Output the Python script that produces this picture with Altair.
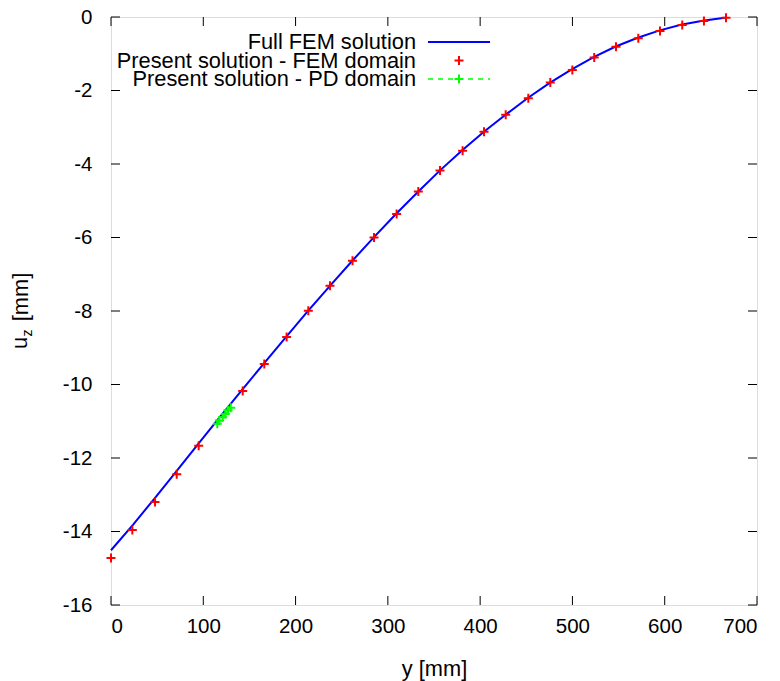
import altair as alt
import pandas as pd

# ---- data ----
fem_y = [0, 23.1, 47.7, 71.2, 95, 142.7, 166.1, 190.3, 213.8, 237.3, 261.7, 285, 309.5,
         333, 356.5, 381, 404.2, 427.7, 452.2, 476, 499.9, 523.6, 547.2, 571.4, 594.9,
         619, 642.5, 666.4]
fem_u = [-14.72, -13.96, -13.20, -12.44, -11.67, -10.18, -9.44, -8.71, -7.99, -7.31, -6.63,
         -6.00, -5.36, -4.75, -4.18, -3.64, -3.12, -2.66, -2.21, -1.78, -1.44, -1.10, -0.81,
         -0.58, -0.38, -0.22, -0.11, -0.02]

full_y = [0, 23.75, 47.5, 71.25, 95, 118.75, 142.5, 166.25, 190, 213.75, 237.5, 261.25, 285,
          308.75, 332.5, 356.25, 380, 403.75, 427.5, 451.25, 475, 498.75, 522.5, 546.25, 570,
          593.75, 617.5, 641.25, 665]
full_u = [-14.51, -13.82, -13.09, -12.35, -11.60, -10.86, -10.13, -9.41, -8.70, -7.99, -7.31,
          -6.64, -5.99, -5.36, -4.76, -4.18, -3.64, -3.13, -2.66, -2.21, -1.80, -1.43, -1.10,
          -0.81, -0.57, -0.37, -0.21, -0.10, -0.02]

pd_y = [115.2, 117.4, 121.0, 123.9, 126.8, 129.7]
pd_u = [-11.07, -10.98, -10.89, -10.80, -10.70, -10.63]

x_ticks = [0, 100, 200, 300, 400, 500, 600, 700]
y_ticks = [0, -2, -4, -6, -8, -10, -12, -14, -16]

legend_labels = ["Full FEM solution", "Present solution - FEM domain", "Present solution - PD domain"]

W, H = 646, 588
FONT = "Liberation Sans"
FS = 21.8
TFS = 20.5
CROSS = "M-1,0L1,0M0,-1L0,1"

xscale = alt.Scale(domain=[0, 700], nice=False, zero=False)
yscale = alt.Scale(domain=[-16, 0], nice=False, zero=False)
xaxis = alt.Axis(values=x_ticks, title="y [mm]", grid=False, domain=False, ticks=False,
                 labelFontSize=TFS, labelPadding=11, titleFontSize=FS, titlePadding=22,
                 labelFont=FONT, titleFont=FONT, labelColor="black", titleColor="black",
                 titleFontWeight="normal")
yaxis = alt.Axis(values=y_ticks, title=None, grid=False, domain=False, ticks=False,
                 labelFontSize=TFS, labelPadding=19, labelFont=FONT, labelColor="black",
                 labelExpr="replace(datum.label, '\u2212', '-')")


def X(field="x"):
    return alt.X(f"{field}:Q", scale=xscale, axis=xaxis)


def Y(field="y"):
    return alt.Y(f"{field}:Q", scale=yscale, axis=yaxis)


full_df = pd.DataFrame({"x": full_y, "y": full_u})
fem_df = pd.DataFrame({"x": fem_y, "y": fem_u})
pd_df = pd.DataFrame({"x": pd_y, "y": pd_u})
xt_df = pd.DataFrame({"x": x_ticks})
yt_df = pd.DataFrame({"y": y_ticks})
one = pd.DataFrame({"a": [0]})

full_line = alt.Chart(full_df).mark_line(color="#0000ff", strokeWidth=2).encode(x=X(), y=Y())
pd_line = alt.Chart(pd_df).mark_line(color="#00ff00", strokeWidth=1.5, strokeDash=[5, 5]).encode(x=X(), y=Y())
pd_pts = alt.Chart(pd_df).mark_point(shape=CROSS, size=81, filled=False, color="#00ff00",
                                      strokeWidth=2, opacity=1).encode(x=X(), y=Y())
fem_pts = alt.Chart(fem_df).mark_point(shape=CROSS, size=81, filled=False, color="#ff0000",
                                        strokeWidth=2, opacity=1).encode(x=X(), y=Y())

tick_col = "black"
left_ticks = alt.Chart(yt_df).mark_rule(color=tick_col).encode(y=Y(), x=alt.value(0), x2=alt.value(9))
right_ticks = alt.Chart(yt_df).mark_rule(color=tick_col).encode(y=Y(), x=alt.value(W - 9), x2=alt.value(W))
bottom_ticks = alt.Chart(xt_df).mark_rule(color=tick_col).encode(x=X(), y=alt.value(H - 9), y2=alt.value(H))
top_ticks = alt.Chart(xt_df).mark_rule(color=tick_col).encode(x=X(), y=alt.value(0), y2=alt.value(9))

# legend (manual, top-left inside plot)
LX, rows = 305, [25, 43.5, 62]
leg = []
for lab, ry in zip(legend_labels, rows):
    leg.append(alt.Chart(one).mark_text(align="right", baseline="middle", fontSize=FS, font=FONT,
                                        color="black").encode(x=alt.value(LX), y=alt.value(ry),
                                                              text=alt.value(lab)))
leg.append(alt.Chart(one).mark_rule(color="#0000ff", strokeWidth=2).encode(
    x=alt.value(317), x2=alt.value(379), y=alt.value(rows[0])))
leg.append(alt.Chart(one).mark_point(shape=CROSS, size=81, filled=False, color="#ff0000",
                                     strokeWidth=2, opacity=1).encode(x=alt.value(348), y=alt.value(rows[1])))
leg.append(alt.Chart(one).mark_rule(color="#00ff00", strokeWidth=1.5, strokeDash=[5, 5]).encode(
    x=alt.value(317), x2=alt.value(379), y=alt.value(rows[2])))
leg.append(alt.Chart(one).mark_point(shape=CROSS, size=81, filled=False, color="#00ff00",
                                     strokeWidth=2, opacity=1).encode(x=alt.value(348), y=alt.value(rows[2])))

# y-axis title u_z [mm] with subscript
ytitle = [
    alt.Chart(one).mark_text(angle=270, align="center", baseline="middle", fontSize=FS, font=FONT,
                             color="black").encode(x=alt.value(-91), y=alt.value(326), text=alt.value("u")),
    alt.Chart(one).mark_text(angle=270, align="center", baseline="middle", fontSize=14, font=FONT,
                             color="black").encode(x=alt.value(-83), y=alt.value(316), text=alt.value("z")),
    alt.Chart(one).mark_text(angle=270, align="center", baseline="middle", fontSize=FS, font=FONT,
                             color="black").encode(x=alt.value(-90), y=alt.value(280), text=alt.value("[mm]")),
]

chart = alt.layer(
    full_line, pd_line, pd_pts, fem_pts,
    left_ticks, right_ticks, bottom_ticks, top_ticks,
    *leg, *ytitle
).properties(
    width=W, height=H,
    autosize=alt.AutoSizeParams(type="none"),
    padding={"left": 103, "top": 9, "right": 15, "bottom": 76},
).configure_view(
    stroke="black", strokeWidth=1
).configure(background="white")

chart.save("out.html", embed_options={"renderer": "svg", "actions": False})
